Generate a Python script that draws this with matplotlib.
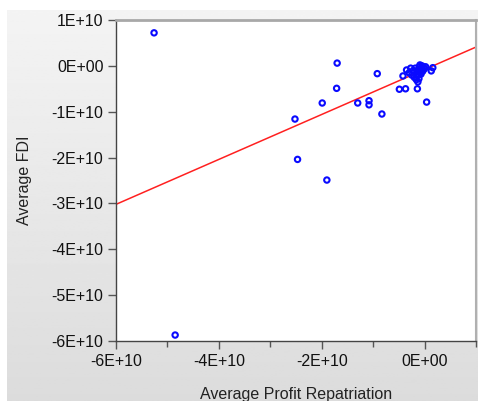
import numpy as np
import matplotlib
matplotlib.use('Agg')
import matplotlib.pyplot as plt
from matplotlib.ticker import FuncFormatter, MultipleLocator

plt.rcParams['font.family'] = ['Liberation Sans', 'DejaVu Sans']

# values in units of 1E+10
repatriation = [-5.26, -4.85, -1.70, -0.92, -1.71, -1.99, -1.30, -1.08, -1.08, -0.83,
                -2.52, -0.49, -0.37, -0.14, 0.04, -0.35, -0.42, 0.16, 0.13, -2.47,
                -1.90,
                -0.30, -0.25, -0.22, -0.20, -0.18, -0.15, -0.12, -0.10, -0.08, -0.06,
                -0.05, -0.03, -0.02, 0.00, 0.02, -0.14, -0.11, -0.07, -0.04, -0.16,
                -0.09, -0.13, -0.27]
fdi = [0.72, -5.87, 0.06, -0.17, -0.49, -0.81, -0.81, -0.76, -0.85, -1.05,
       -1.16, -0.51, -0.50, -0.50, -0.79, -0.09, -0.22, -0.04, -0.11, -2.04,
       -2.49,
       -0.15, -0.20, -0.10, -0.25, -0.05, -0.12, -0.08, -0.02, -0.15, -0.05,
       0.00, -0.10, -0.03, -0.06, -0.02, -0.20, -0.28, -0.18, -0.12, -0.30,
       0.02, -0.35, -0.05]
fit_slope = 0.49
fit_intercept = -0.08

scale = 1e10
x = np.array(repatriation) * scale
y = np.array(fdi) * scale

fig = plt.figure(figsize=(4.78, 4.01), dpi=100, facecolor='white')

# grey gradient panel behind the plot
bg = fig.add_axes([7 / 478, 0, 1 - 7 / 478, 1 - 10 / 401])
grad = np.linspace(0.955, 0.862, 256).reshape(-1, 1)
bg.imshow(grad, cmap='gray', vmin=0, vmax=1, aspect='auto', extent=[0, 1, 0, 1])
bg.set_axis_off()

ax = fig.add_axes([116 / 478, 60 / 401, 360 / 478, 321 / 401])
ax.set_facecolor('white')

ax.scatter(x, y, s=15, facecolors='none', edgecolors='#0a0aff', linewidths=1.5, zorder=3)

xl = np.array([-6e10, 1e10])
ax.plot(xl, fit_slope * xl + fit_intercept * scale, color='#ff2020', lw=1.1, zorder=2)

ax.set_xlim(-6e10, 1e10)
ax.set_ylim(-6e10, 1e10)
ax.xaxis.set_major_locator(MultipleLocator(2e10))
ax.xaxis.set_minor_locator(MultipleLocator(1e10))
ax.yaxis.set_major_locator(MultipleLocator(1e10))
fmt = FuncFormatter(lambda v, p: f'{v:.0E}')
ax.xaxis.set_major_formatter(fmt)
ax.yaxis.set_major_formatter(fmt)

ax.tick_params(axis='both', which='major', direction='out', length=6, width=1,
               color='#555555', labelsize=11.5, pad=3, labelcolor='#111111')
ax.tick_params(axis='x', which='minor', direction='out', length=4, width=1, color='#555555')

for side in ['left', 'bottom']:
    ax.spines[side].set_color('#444444')
    ax.spines[side].set_linewidth(1.0)
ax.spines['top'].set_color('#a8a8a8')
ax.spines['top'].set_linewidth(2.0)
ax.spines['right'].set_color('#b0b0b0')
ax.spines['right'].set_linewidth(1.5)

ax.set_xlabel('Average Profit Repatriation', fontsize=11.5, color='#222222', labelpad=13)
ax.set_ylabel('Average FDI', fontsize=11.5, color='#222222', labelpad=14)

fig.savefig('out.png', dpi=100)
